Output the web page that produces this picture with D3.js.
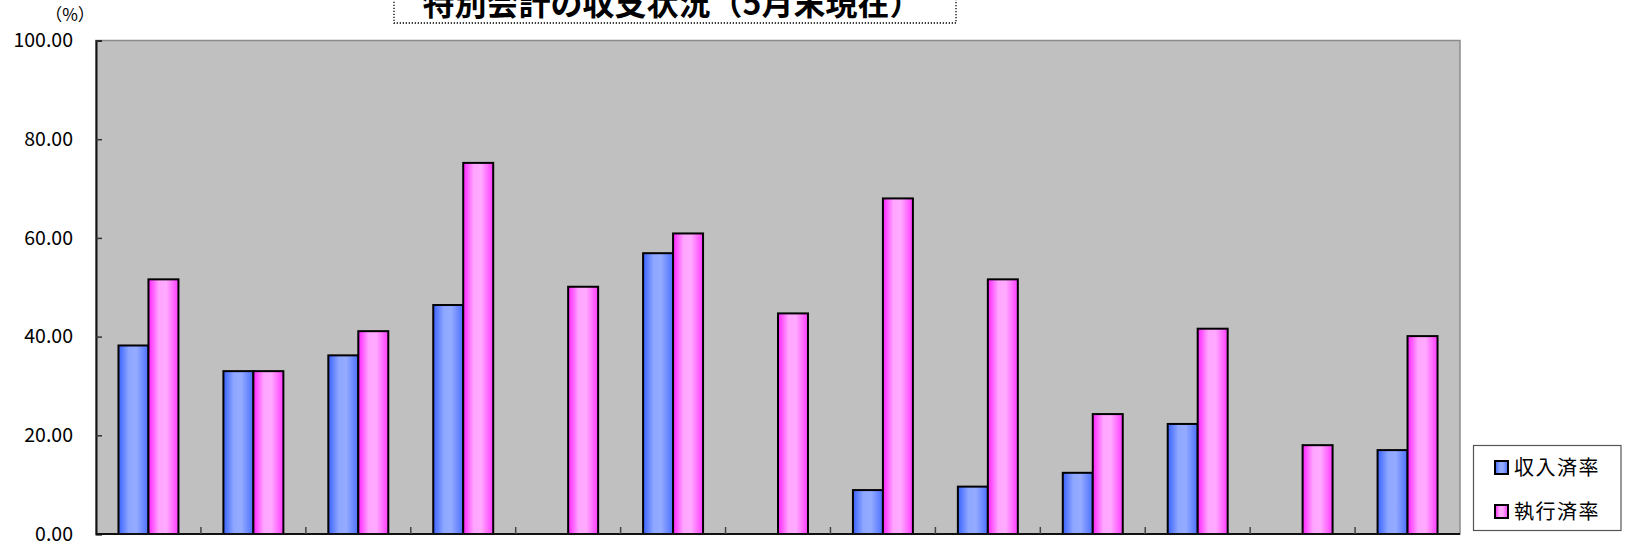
<!DOCTYPE html>
<html>
<head>
<meta charset="utf-8">
<script src="https://cdn.jsdelivr.net/npm/d3@7"></script>
<style>
  body { margin: 0; background: #fff; }
  svg { display: block; font-family: "Noto Sans CJK JP", "Noto Sans", sans-serif; }
</style>
</head>
<body>
<div id="vis"></div>
<script>
const WIDTH = 1626;
const HEIGHT = 552;
const PLOT = {left: 96, right: 1460, top: 40.5, bottom: 534};

// data
const categories = ["1", "2", "3", "4", "5", "6", "7", "8", "9", "10", "11", "12", "13"];
const seriesNames = ["収入済率", "執行済率"];
const revenueRate = [38.2, 33.0, 36.2, 46.4, null, 56.9, null, 8.9, 9.6, 12.4, 22.3, null, 17.0];
const executionRate = [51.6, 33.0, 41.1, 75.2, 50.1, 60.9, 44.7, 68.0, 51.6, 24.3, 41.6, 18.0, 40.1];
const yTicks = [0, 20, 40, 60, 80, 100];
const titleText = "特別会計の収支状況（5月末現在）";

const seriesValues = [revenueRate, executionRate];

const svg = d3.select("#vis")
  .append("svg")
    .attr("width", WIDTH)
    .attr("height", HEIGHT);

// gradients
const defs = svg.append("defs");
const grads = [
  {id: "gBlue", stops: [["0%", "#3a62ff"], ["35%", "#8ea7ff"], ["60%", "#94abff"], ["100%", "#4c6fff"]]},
  {id: "gPink", stops: [["0%", "#ff22ff"], ["35%", "#ffa6ff"], ["60%", "#ffaaff"], ["100%", "#ff3cff"]]}
];
grads.forEach(g => {
  const lg = defs.append("linearGradient").attr("id", g.id)
    .attr("x1", "0%").attr("x2", "100%").attr("y1", "0%").attr("y2", "0%");
  g.stops.forEach(s => lg.append("stop").attr("offset", s[0]).attr("stop-color", s[1]));
});
const FILLS = ["url(#gBlue)", "url(#gPink)"];

const X0 = d3.scaleBand()
  .domain(categories)
  .range([PLOT.left, PLOT.right]);

const X1 = d3.scaleBand()
  .domain(seriesNames)
  .range([0, X0.bandwidth()])
  .paddingOuter(0.75);

const Y = d3.scaleLinear()
  .domain([0, 100])
  .range([PLOT.bottom, PLOT.top]);

// plot background
svg.append("rect")
  .attr("x", PLOT.left)
  .attr("y", PLOT.top)
  .attr("width", PLOT.right - PLOT.left)
  .attr("height", PLOT.bottom - PLOT.top)
  .attr("fill", "#c0c0c0")
  .attr("stroke", "#8c8c8c")
  .attr("stroke-width", 1.5);

// bars
seriesNames.forEach((name, si) => {
  const rows = categories.map((c, i) => ({c: c, v: seriesValues[si][i]}))
    .filter(d => d.v != null);
  svg.append("g").selectAll("rect")
    .data(rows)
    .enter()
    .append("rect")
      .attr("x", d => X0(d.c) + X1(name))
      .attr("y", d => Y(d.v))
      .attr("width", X1.bandwidth())
      .attr("height", d => Y(0) - Y(d.v))
      .attr("fill", FILLS[si])
      .attr("stroke", "#000")
      .attr("stroke-width", 2);
});

// y axis
const yAxis = svg.append("g")
  .attr("transform", "translate(" + PLOT.left + ",0)")
  .call(d3.axisRight(Y).tickValues(yTicks).tickSize(6).tickFormat(d3.format(".2f")));
yAxis.select(".domain").attr("stroke", "#111").attr("stroke-width", 2);
yAxis.selectAll(".tick line").attr("stroke", "#333").attr("stroke-width", 1.5);
yAxis.selectAll(".tick text")
  .attr("x", -23)
  .attr("text-anchor", "end")
  .attr("fill", "#000")
  .style("font-size", "19.5px")
  .style("font-family", "'Noto Sans CJK JP', sans-serif");

// x axis: ticks between categories, no labels
const xAxis = svg.append("g")
  .attr("transform", "translate(0," + PLOT.bottom + ")");
xAxis.append("line")
  .attr("x1", PLOT.left).attr("x2", PLOT.right)
  .attr("y1", 0).attr("y2", 0)
  .attr("stroke", "#111").attr("stroke-width", 2);
xAxis.selectAll("line.tick")
  .data(categories.slice(1))
  .enter()
  .append("line")
    .attr("class", "tick")
    .attr("x1", d => X0(d)).attr("x2", d => X0(d))
    .attr("y1", 0).attr("y2", -7)
    .attr("stroke", "#444").attr("stroke-width", 1.5);

// unit label
svg.append("text")
  .attr("x", 70)
  .attr("y", 21)
  .attr("text-anchor", "middle")
  .style("font-size", "17px")
  .text("（%）");

// title box (cut off at the top, as in the original)
svg.append("rect")
  .attr("x", 394)
  .attr("y", -30)
  .attr("width", 562)
  .attr("height", 53)
  .attr("fill", "#fff")
  .attr("stroke", "#000")
  .attr("stroke-width", 1.3)
  .attr("stroke-dasharray", "1.3,1.7");

svg.append("text")
  .attr("x", 672)
  .attr("y", 15)
  .attr("text-anchor", "middle")
  .style("font-size", "32px")
  .style("font-weight", "bold")
  .text(titleText);

// legend
const legend = svg.append("g");
legend.append("rect")
  .attr("x", 1473.5).attr("y", 445.5)
  .attr("width", 147.5).attr("height", 85)
  .attr("fill", "#fff")
  .attr("stroke", "#555")
  .attr("stroke-width", 1.2);

const LEG_Y = [467.5, 511.5];
seriesNames.forEach((name, i) => {
  legend.append("rect")
    .attr("x", 1495).attr("y", LEG_Y[i] - 6.5)
    .attr("width", 13).attr("height", 13)
    .attr("fill", FILLS[i])
    .attr("stroke", "#000")
    .attr("stroke-width", 2);
  legend.append("text")
    .attr("x", 1514)
    .attr("y", LEG_Y[i])
    .attr("dy", "0.36em")
    .style("font-size", "20px")
    .style("letter-spacing", "1.5px")
    .text(name);
});
</script>
</body>
</html>
